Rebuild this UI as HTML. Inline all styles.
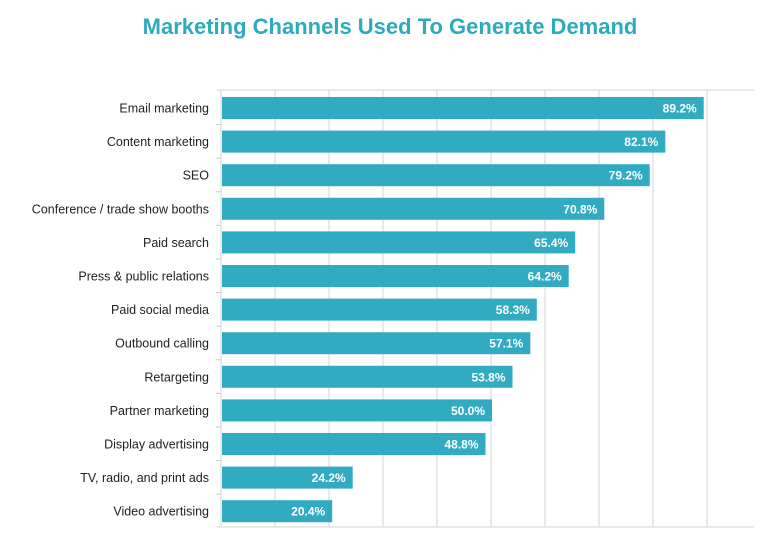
<!DOCTYPE html>
<html><head><style>
body{margin:0;background:#fff;width:776px;height:537px;overflow:hidden;font-family:"Liberation Sans",sans-serif;}
</style></head><body>
<svg width="776" height="537" xmlns="http://www.w3.org/2000/svg">
<text x="390" y="34" text-anchor="middle" font-family="Liberation Sans, sans-serif" font-weight="bold" font-size="22" fill="#2eaabf">Marketing Channels Used To Generate Demand</text>
<g stroke="#e2e2e2" stroke-width="1.5">
<line x1="217" y1="90" x2="754" y2="90"/>
<line x1="217" y1="527" x2="754" y2="527"/>
<line x1="275" y1="90" x2="275" y2="527"/>
<line x1="329" y1="90" x2="329" y2="527"/>
<line x1="383" y1="90" x2="383" y2="527"/>
<line x1="437" y1="90" x2="437" y2="527"/>
<line x1="491" y1="90" x2="491" y2="527"/>
<line x1="545" y1="90" x2="545" y2="527"/>
<line x1="599" y1="90" x2="599" y2="527"/>
<line x1="653" y1="90" x2="653" y2="527"/>
<line x1="707" y1="90" x2="707" y2="527"/>
<line x1="221" y1="90" x2="221" y2="527"/>
</g>
<g stroke="#ccc">
<line x1="216" y1="124.6" x2="221" y2="124.6"/><line x1="216" y1="158.2" x2="221" y2="158.2"/><line x1="216" y1="191.8" x2="221" y2="191.8"/><line x1="216" y1="225.4" x2="221" y2="225.4"/><line x1="216" y1="259" x2="221" y2="259"/><line x1="216" y1="292.6" x2="221" y2="292.6"/><line x1="216" y1="326.2" x2="221" y2="326.2"/><line x1="216" y1="359.8" x2="221" y2="359.8"/><line x1="216" y1="393.4" x2="221" y2="393.4"/><line x1="216" y1="427" x2="221" y2="427"/><line x1="216" y1="460.6" x2="221" y2="460.6"/><line x1="216" y1="494.2" x2="221" y2="494.2"/>
</g>
<g fill="#31abc2">
<rect x="222" y="97" width="481.7" height="22"/>
<rect x="222" y="130.6" width="443.3" height="22"/>
<rect x="222" y="164.2" width="427.7" height="22"/>
<rect x="222" y="197.8" width="382.3" height="22"/>
<rect x="222" y="231.4" width="353.2" height="22"/>
<rect x="222" y="265" width="346.7" height="22"/>
<rect x="222" y="298.6" width="314.8" height="22"/>
<rect x="222" y="332.2" width="308.3" height="22"/>
<rect x="222" y="365.8" width="290.5" height="22"/>
<rect x="222" y="399.4" width="270" height="22"/>
<rect x="222" y="433" width="263.5" height="22"/>
<rect x="222" y="466.6" width="130.7" height="22"/>
<rect x="222" y="500.2" width="110.2" height="22"/>
</g>
<g font-family="Liberation Sans, sans-serif" font-size="12.5" fill="#222" text-anchor="end">
<text x="209" y="112.5">Email marketing</text>
<text x="209" y="146.1">Content marketing</text>
<text x="209" y="179.7">SEO</text>
<text x="209" y="213.3">Conference / trade show booths</text>
<text x="209" y="246.9">Paid search</text>
<text x="209" y="280.5">Press &amp; public relations</text>
<text x="209" y="314.1">Paid social media</text>
<text x="209" y="347.7">Outbound calling</text>
<text x="209" y="381.3">Retargeting</text>
<text x="209" y="414.9">Partner marketing</text>
<text x="209" y="448.5">Display advertising</text>
<text x="209" y="482.1">TV, radio, and print ads</text>
<text x="209" y="515.7">Video advertising</text>
</g>
<g font-family="Liberation Sans, sans-serif" font-size="12" font-weight="bold" fill="#fff" text-anchor="end">
<text x="696.7" y="112.5">89.2%</text>
<text x="658.3" y="146.1">82.1%</text>
<text x="642.7" y="179.7">79.2%</text>
<text x="597.3" y="213.3">70.8%</text>
<text x="568.2" y="246.9">65.4%</text>
<text x="561.7" y="280.5">64.2%</text>
<text x="529.8" y="314.1">58.3%</text>
<text x="523.3" y="347.7">57.1%</text>
<text x="505.5" y="381.3">53.8%</text>
<text x="485" y="414.9">50.0%</text>
<text x="478.5" y="448.5">48.8%</text>
<text x="345.7" y="482.1">24.2%</text>
<text x="325.2" y="515.7">20.4%</text>
</g>
</svg>
</body></html>
